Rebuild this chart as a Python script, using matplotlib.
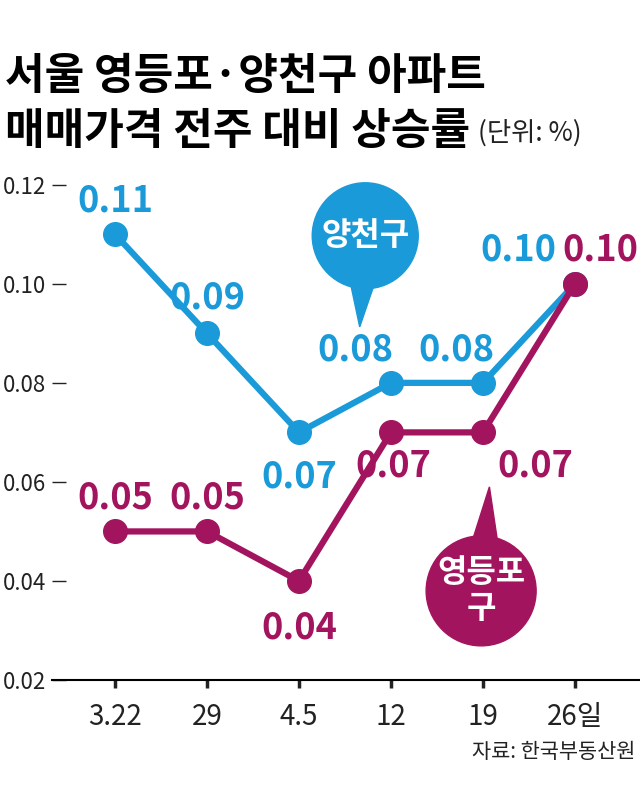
import numpy as np
import matplotlib
matplotlib.use('Agg')
import matplotlib.pyplot as plt
from matplotlib.patches import Circle, Polygon
from matplotlib.transforms import IdentityTransform

plt.rcParams['font.family'] = ['Noto Sans CJK KR', 'DejaVu Sans']

dates = ['3.22', '29', '4.5', '12', '19', '26일']
yangcheon = [0.11, 0.09, 0.07, 0.08, 0.08, 0.10]
yeongdeungpo = [0.05, 0.05, 0.04, 0.07, 0.07, 0.10]
yticks = [0.02, 0.04, 0.06, 0.08, 0.10, 0.12]

# label offsets in pixels (dx, dy)
off_yc = [(0, 33), (0, 35), (0, -45), (-36, 33), (-27, 33), (-57, 34)]
off_yd = [(0, 33), (0, 33), (0, -47), (2, -34), (52, -34), (25, 34)]

blue = '#1a9ad8'
maroon = '#a3145f'

fig = plt.figure(figsize=(6.4, 7.92), dpi=100)
ax = fig.add_axes([52 / 640, 112 / 792, 588 / 640, 520 / 792])

x = np.arange(len(dates))
ax.plot(x, yangcheon, color=blue, lw=4.5, marker='o', ms=17, zorder=3)
ax.plot(x, yeongdeungpo, color=maroon, lw=4.5, marker='o', ms=17, zorder=4)

for xi, v, (dx, dy) in zip(x, yangcheon, off_yc):
    ax.annotate(f'{v:.2f}', (xi, v), xytext=(dx, dy), textcoords='offset pixels',
                ha='center', va='center', color=blue, fontsize=26, fontweight='bold', zorder=5)
for xi, v, (dx, dy) in zip(x, yeongdeungpo, off_yd):
    ax.annotate(f'{v:.2f}', (xi, v), xytext=(dx, dy), textcoords='offset pixels',
                ha='center', va='center', color=maroon, fontsize=26, fontweight='bold', zorder=5)

ax.set_xlim(-0.685, 5.707)
ax.set_ylim(0.02, 0.125)
ax.set_xticks(x)
ax.set_xticklabels(dates)
ax.set_yticks(yticks)
ax.set_yticklabels([f'{t:.2f}' for t in yticks])
for s in ['top', 'right', 'left']:
    ax.spines[s].set_visible(False)
ax.spines['bottom'].set_linewidth(1.5)
ax.tick_params(axis='y', direction='in', length=10, width=1, pad=4, labelsize=16, colors='#222222')
ax.tick_params(axis='x', direction='out', length=6, width=2.5, pad=10, labelsize=20, colors='#222222')
for t in ax.get_yticklabels() + ax.get_xticklabels():
    t.set_fontweight('light')


def bubble(cx, cy, tx, ty, r, color, label, size):
    c = ax.transData.transform((cx, cy))
    t = ax.transData.transform((tx, ty))
    ang = np.arctan2(t[1] - c[1], t[0] - c[0])
    p1 = c + 0.85 * r * np.array([np.cos(ang + 0.3), np.sin(ang + 0.3)])
    p2 = c + 0.85 * r * np.array([np.cos(ang - 0.3), np.sin(ang - 0.3)])
    ax.add_patch(Circle(c, r, transform=IdentityTransform(), color=color,
                        zorder=6, clip_on=False))
    ax.add_patch(Polygon([p1, t, p2], closed=True, transform=IdentityTransform(),
                         color=color, zorder=6, clip_on=False))
    ax.text(cx, cy, label, ha='center', va='center', color='white', fontsize=size,
            fontweight='bold', linespacing=1.15, zorder=7)


bubble(2.72, 0.1097, 2.66, 0.0913, 53, blue, '양천구', 23)
bubble(3.98, 0.038, 4.07, 0.059, 55, maroon, '영등포\n구', 23)

fig.text(5 / 640, 1 - 76 / 792, '서울 영등포·양천구 아파트', fontsize=31,
         fontweight='heavy', va='center', ha='left', color='black')
t2 = fig.text(5 / 640, 1 - 131 / 792, '매매가격 전주 대비 상승률', fontsize=31,
              fontweight='heavy', va='center', ha='left', color='black')
ax.annotate('(단위: %)', xy=(1, 0.45), xycoords=t2, xytext=(6, 0), textcoords='offset points',
            fontsize=19, fontweight='light', color='#222222', va='center', ha='left',
            annotation_clip=False)

fig.text(635 / 640, 1 - 752 / 792, '자료: 한국부동산원', fontsize=15, fontweight='light',
         color='#222222', ha='right', va='center')

fig.savefig('out.png', dpi=100)
